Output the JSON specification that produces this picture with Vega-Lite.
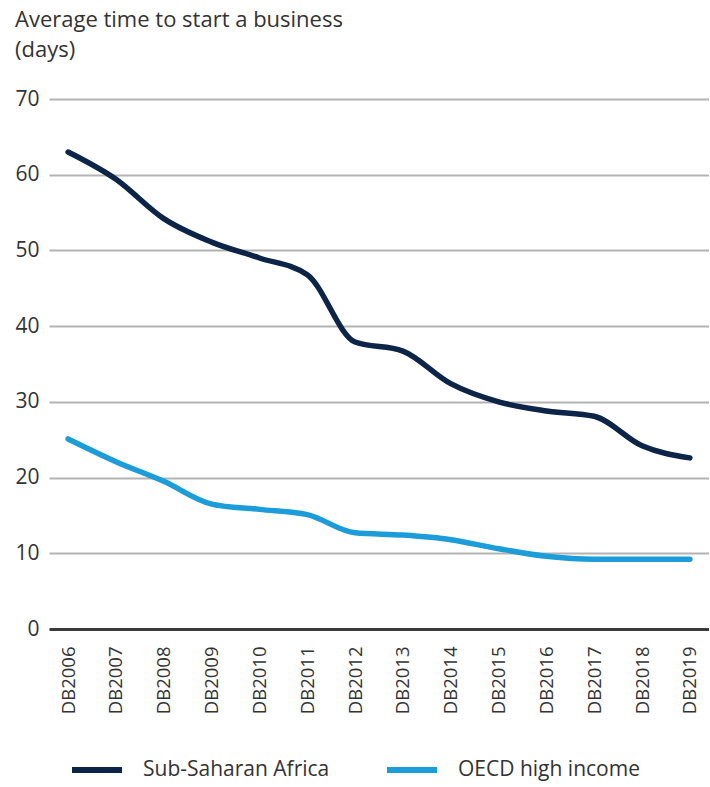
{
  "$schema": "https://vega.github.io/schema/vega-lite/v6.json",
  "width": 660,
  "height": 530,
  "padding": {"left": 14, "top": 9, "right": 0, "bottom": 5},
  "background": "white",
  "config": {
    "font": "Open Sans",
    "view": {"stroke": null}
  },
  "title": {
    "text": ["Average time to start a business", "(days)"],
    "anchor": "start",
    "frame": "bounds",
    "fontSize": 22,
    "fontWeight": "normal",
    "color": "#333333",
    "lineHeight": 30,
    "offset": 26
  },
  "data": {
    "values": [
      {"year": "DB2006", "series": "Sub-Saharan Africa", "days": 63.0},
      {"year": "DB2007", "series": "Sub-Saharan Africa", "days": 59.4},
      {"year": "DB2008", "series": "Sub-Saharan Africa", "days": 54.2},
      {"year": "DB2009", "series": "Sub-Saharan Africa", "days": 51.1},
      {"year": "DB2010", "series": "Sub-Saharan Africa", "days": 49.0},
      {"year": "DB2011", "series": "Sub-Saharan Africa", "days": 46.8},
      {"year": "DB2012", "series": "Sub-Saharan Africa", "days": 37.9},
      {"year": "DB2013", "series": "Sub-Saharan Africa", "days": 36.7},
      {"year": "DB2014", "series": "Sub-Saharan Africa", "days": 32.4},
      {"year": "DB2015", "series": "Sub-Saharan Africa", "days": 30.0},
      {"year": "DB2016", "series": "Sub-Saharan Africa", "days": 28.8},
      {"year": "DB2017", "series": "Sub-Saharan Africa", "days": 28.1},
      {"year": "DB2018", "series": "Sub-Saharan Africa", "days": 24.2},
      {"year": "DB2019", "series": "Sub-Saharan Africa", "days": 22.6},
      {"year": "DB2006", "series": "OECD high income", "days": 25.1},
      {"year": "DB2007", "series": "OECD high income", "days": 22.1},
      {"year": "DB2008", "series": "OECD high income", "days": 19.5},
      {"year": "DB2009", "series": "OECD high income", "days": 16.5},
      {"year": "DB2010", "series": "OECD high income", "days": 15.8},
      {"year": "DB2011", "series": "OECD high income", "days": 15.1},
      {"year": "DB2012", "series": "OECD high income", "days": 12.7},
      {"year": "DB2013", "series": "OECD high income", "days": 12.4},
      {"year": "DB2014", "series": "OECD high income", "days": 11.8},
      {"year": "DB2015", "series": "OECD high income", "days": 10.6},
      {"year": "DB2016", "series": "OECD high income", "days": 9.6},
      {"year": "DB2017", "series": "OECD high income", "days": 9.2},
      {"year": "DB2018", "series": "OECD high income", "days": 9.2},
      {"year": "DB2019", "series": "OECD high income", "days": 9.2}
    ]
  },
  "mark": {"type": "line", "strokeWidth": 5.5, "interpolate": "monotone", "strokeCap": "round"},
  "encoding": {
    "x": {
      "field": "year",
      "type": "ordinal",
      "scale": {"type": "point", "padding": 0.4},
      "axis": {
        "title": null,
        "labelAngle": -90,
        "labelFontSize": 18.5,
        "labelColor": "#333333",
        "domain": false,
        "ticks": false,
        "labelPadding": 17,
        "grid": false
      }
    },
    "y": {
      "field": "days",
      "type": "quantitative",
      "scale": {"domain": [0, 70]},
      "axis": {
        "title": null,
        "values": [0, 10, 20, 30, 40, 50, 60, 70],
        "labelFontSize": 21,
        "labelColor": "#333333",
        "domain": false,
        "ticks": false,
        "labelPadding": 10,
        "grid": true,
        "gridColor": {"condition": {"test": "datum.value === 0", "value": "#3a3a3a"}, "value": "#b3b3b3"},
        "gridWidth": {"condition": {"test": "datum.value === 0", "value": 3}, "value": 2},
        "gridOpacity": 1
      }
    },
    "color": {
      "field": "series",
      "type": "nominal",
      "scale": {
        "domain": ["Sub-Saharan Africa", "OECD high income"],
        "range": ["#0c2447", "#1c9dd9"]
      },
      "legend": {
        "title": null,
        "orient": "none",
        "legendX": 20,
        "legendY": 643,
        "direction": "horizontal",
        "symbolType": "stroke",
        "symbolStrokeWidth": 6,
        "symbolSize": 2500,
        "labelFontSize": 21,
        "labelLimit": 400,
        "labelColor": "#333333",
        "columnPadding": 45,
        "labelOffset": 18
      }
    }
  }
}
